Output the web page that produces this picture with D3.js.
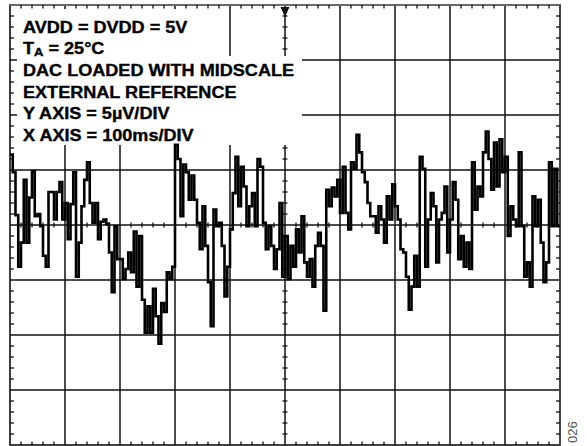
<!DOCTYPE html>
<html><head><meta charset="utf-8">
<script src="https://cdn.jsdelivr.net/npm/d3@7"></script>
<style>html,body{margin:0;padding:0;background:#fff;} svg{display:block}</style>
</head><body>
<svg id="c" width="587" height="446"></svg>
<script>
// Output noise in microvolts, one sample every 5 ms
const noiseUV = [
 6.4, 4.8, 0.9, -3.8, -1.6, 4.1, -1.6, 2.5, 4.9, 0.8,
 1.0, -0.1, -2.8, -3.8, 3.0, 3.0, 0.5, 3.0, 3.9, 0.5,
 2.0, -1.3, 1.9, 4.8, -4.7, -1.6, 1.7, 4.1, 5.7, 2.0,
 0.2, 2.0, -1.3, 0.3, 0.5, 0.1, -2.5, -6.1, -0.1, -3.1,
 -3.1, -4.9, -4.0, -2.5, -4.3, -0.6, -5.6, -1.0, -6.8, -9.8,
 -7.4, -9.8, -5.8, -8.3, -10.8, -7.1, -7.9, -4.3, -4.9, -3.8,
 7.3, 6.0, 0.8, 5.5, 4.8, 2.3, 4.5, 2.3, 0.2, -2.2,
 1.7, -1.9, -5.2, -9.2, 1.4, -0.1, 0.2, -1.9, -6.5, -3.8,
 -0.4, 2.9, 6.2, 1.7, 5.3, 3.5, -0.1, 1.7, 2.9, -0.1,
 6.0, 5.3, 0.2, -2.2, -0.1, -1.9, -4.0, -2.2, 2.0, -4.7,
 -1.0, -4.9, -1.9, -3.8, -0.4, -2.5, 0.8, -3.4, -4.7, -3.1,
 -5.6, -1.9, -0.7, -1.9, -7.8, 3.2, 1.7, 3.4, 2.6, 4.1,
 1.1, 5.3, 1.1, -0.4, 5.7, 5.1, 8.2, 6.6, 4.8, 3.9,
 2.0, 0.8, 0.8, -0.7, 1.7, 0.5, -1.6, 2.6, 0.5, 3.7,
 1.7, 0.5, -2.2, -2.5, -4.7, -7.7, -5.6, -2.8, -5.6, 6.2,
 5.1, -3.8, 0.5, 2.9, 1.7, -3.4, 0.5, 1.1, 3.5, -2.5,
 0.5, 3.9, 2.3, -3.1, -1.0, -3.8, -1.6, -4.0, 5.7, 1.4,
 3.5, 2.6, 6.6, 8.5, 6.0, 3.2, 7.5, 3.5, 7.8, 4.8,
 6.2, -1.0, 1.7, 0.5, -0.1, 6.6, -0.1, -4.7, -3.4, -5.6,
 2.6, -0.1, 2.3, -1.6, -5.2, -3.4, 5.7, -0.1, 5.1, -0.1
];
const sampleMs = 5;
const timeDomainMs = [0, 1000];   // 10 div x 100 ms
const voltDomainUV = [-20, 20];   // 8 div x 5 uV
const majorXms = [0,100,200,300,400,500,600,700,800,900,1000];
const majorYuV = [-20,-15,-10,-5,0,5,10,15,20];
const minorXstepMs = 20;
const minorYstepUV = 1;
const notes = ["AVDD = DVDD = 5V", "T|A| = 25°C", "DAC LOADED WITH MIDSCALE",
               "EXTERNAL REFERENCE", "Y AXIS = 5µV/DIV", "X AXIS = 100ms/DIV"];
const figId = "026";

const svg = d3.select("#c");
const L = 10, R = 560, T = 5, B = 445;
const x = d3.scaleLinear().domain(timeDomainMs).range([L, R]);
const y = d3.scaleLinear().domain(voltDomainUV).range([B, T]);
const ink = "#111";

const grid = svg.append("g");
grid.selectAll("line.v").data(majorXms.slice(1, -1)).join("line")
  .attr("x1", d => x(d)).attr("x2", d => x(d)).attr("y1", T).attr("y2", B)
  .attr("stroke", ink).attr("stroke-width", 1.5);
grid.selectAll("line.h").data(majorYuV.slice(1, -1)).join("line")
  .attr("x1", L).attr("x2", R).attr("y1", d => y(d)).attr("y2", d => y(d))
  .attr("stroke", ink).attr("stroke-width", 1.5);

const minorX = d3.range(timeDomainMs[0] + minorXstepMs, timeDomainMs[1], minorXstepMs)
  .filter(d => d % 100 !== 0);
const minorY = d3.range(voltDomainUV[0] + minorYstepUV, voltDomainUV[1], minorYstepUV)
  .filter(d => d % 5 !== 0);

grid.selectAll("line.cx").data(minorX).join("line")
  .attr("x1", d => x(d)).attr("x2", d => x(d)).attr("y1", y(0) - 2.5).attr("y2", y(0) + 2.5)
  .attr("stroke", ink).attr("stroke-width", 1.3);
grid.selectAll("line.cy").data(minorY).join("line")
  .attr("x1", x(500) - 2.5).attr("x2", x(500) + 2.5).attr("y1", d => y(d)).attr("y2", d => y(d))
  .attr("stroke", ink).attr("stroke-width", 1.3);

svg.append("rect").attr("x", 16).attr("y", 9).attr("width", 190).attr("height", 48).attr("fill", "#fff");
svg.append("rect").attr("x", 17).attr("y", 56).attr("width", 285).attr("height", 89).attr("fill", "#fff");

svg.append("rect").attr("x", L).attr("y", T).attr("width", R - L).attr("height", B - T)
  .attr("fill", "none").attr("stroke", ink).attr("stroke-width", 1.6);
svg.append("line").attr("x1", L).attr("x2", R).attr("y1", T).attr("y2", T)
  .attr("stroke", "#777").attr("stroke-width", 1.6);
svg.append("line").attr("x1", R).attr("x2", R).attr("y1", T).attr("y2", B)
  .attr("stroke", "#444").attr("stroke-width", 2);

const bt = svg.append("g").attr("stroke", ink).attr("stroke-width", 1.3);
bt.selectAll("line.t").data(minorX).join("line")
  .attr("x1", d => x(d)).attr("x2", d => x(d)).attr("y1", T).attr("y2", T + 3.5);
bt.selectAll("line.b").data(minorX).join("line")
  .attr("x1", d => x(d)).attr("x2", d => x(d)).attr("y1", B).attr("y2", B - 3.5);
bt.selectAll("line.l").data(minorY).join("line")
  .attr("x1", L).attr("x2", L + 4).attr("y1", d => y(d)).attr("y2", d => y(d));
bt.selectAll("line.r").data(minorY).join("line")
  .attr("x1", R).attr("x2", R - 4).attr("y1", d => y(d)).attr("y2", d => y(d));

const tx = x(500);
svg.append("path").attr("d", d3.line()([[tx - 4.5, T + 2], [tx + 4.5, T + 2], [tx, T + 12]]) + "Z")
  .attr("fill", ink);

const pts = noiseUV.map((v, i) => [i * sampleMs, v]);
pts.push([timeDomainMs[1], noiseUV[noiseUV.length - 1]]);
svg.append("path").datum(pts)
  .attr("d", d3.line().x(d => x(d[0])).y(d => y(d[1])).curve(d3.curveStepAfter))
  .attr("fill", "none").attr("stroke", "#000").attr("stroke-width", 2.6)
  .attr("stroke-linejoin", "miter");

const tg = svg.append("g").attr("transform", "translate(23,0) scale(1.13,1)")
  .style("font-family", "'Liberation Sans', Arial, sans-serif").style("font-weight", "bold")
  .style("font-size", "16px").attr("fill", "#000")
  .attr("stroke", "#000").attr("stroke-width", 0.35);
const baselines = [33, 54.5, 76, 97.7, 119, 141];
notes.forEach((s, i) => {
  const t = tg.append("text").attr("x", 0).attr("y", baselines[i]);
  if (s.includes("|")) {
    const parts = s.split("|");
    t.append("tspan").text(parts[0]);
    t.append("tspan").text(parts[1]).style("font-size", "11.5px").attr("dy", 2);
    t.append("tspan").text(parts[2]).attr("dy", -2);
  } else {
    t.text(s);
  }
});

svg.append("text").attr("transform", "translate(577,443) rotate(-90)")
  .style("font-family", "'Liberation Sans', Arial, sans-serif").style("font-size", "13px")
  .attr("fill", "#555").text(figId);
</script>
</body></html>
